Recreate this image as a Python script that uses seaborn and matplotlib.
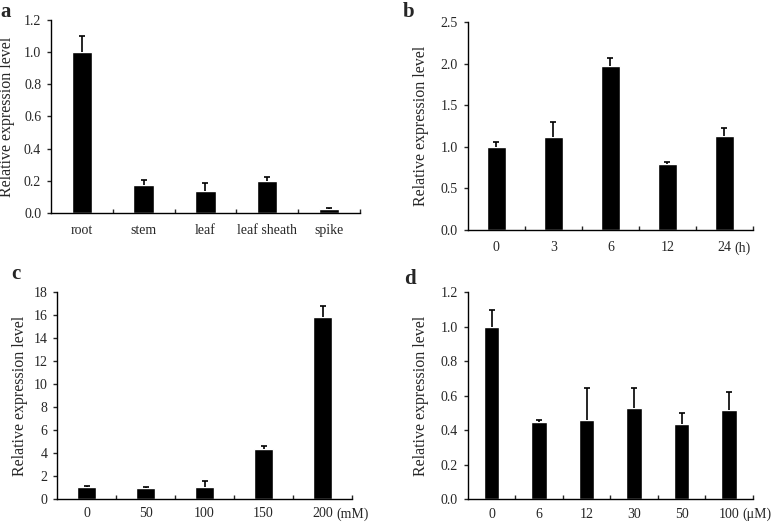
import numpy as np
import matplotlib
matplotlib.use("Agg")
import matplotlib.pyplot as plt
import seaborn as sns
from matplotlib.ticker import MultipleLocator, FormatStrFormatter

# Panel a: tissues
tissues = ["root", "stem", "leaf", "leaf sheath", "spike"]
tissue_mean = [1.00, 0.176, 0.137, 0.200, 0.027]
tissue_err = [0.10, 0.031, 0.048, 0.026, 0.006]

# Panel b: time course (h)
hours = ["0", "3", "6", "12", "24"]
hour_mean = [1.00, 1.122, 1.971, 0.797, 1.134]
hour_err = [0.058, 0.176, 0.092, 0.024, 0.096]

# Panel c: NaCl (mM)
nacl = ["0", "50", "100", "150", "200"]
nacl_mean = [1.01, 0.92, 1.01, 4.31, 15.84]
nacl_err = [0.15, 0.12, 0.58, 0.29, 0.98]

# Panel d: concentration (uM)
conc = ["0", "6", "12", "30", "50", "100"]
conc_mean = [1.00, 0.449, 0.460, 0.526, 0.435, 0.516]
conc_err = [0.096, 0.013, 0.185, 0.119, 0.064, 0.106]

sns.set_style("ticks")
plt.rcParams["font.family"] = ["Liberation Serif", "DejaVu Serif"]
plt.rcParams["font.size"] = 10

fig = plt.figure(figsize=(7.77, 5.22), dpi=100)

panels = [
    # letter, cats, mean, err, ymax, step, fmt, unit, rect, ylabel x, letter pos, unit x, xpad
    ("a", tissues, tissue_mean, tissue_err, 1.2, 0.2, "%.1f", None,
     [0.0656, 0.592, 0.3977, 0.3697], -0.116, (0.0, 17), None, 8),
    ("b", hours, hour_mean, hour_err, 2.5, 0.5, "%.1f", "(h)",
     [0.602, 0.5594, 0.367, 0.3985], -0.136, (403, 17), 0.935, 8),
    ("c", nacl, nacl_mean, nacl_err, 18, 2, "%d", "(mM)",
     [0.0734, 0.0441, 0.3797, 0.3966], -0.098, (11, 279), 0.948, 6),
    ("d", conc, conc_mean, conc_err, 1.2, 0.2, "%.1f", "(\u03bcM)",
     [0.602, 0.0434, 0.367, 0.3972], -0.136, (404, 284), 0.962, 6),
]

for letter, cats, mean, err, ymax, step, fmt, unit, rect, ylab_x, lpos, ux, xpad in panels:
    ax = fig.add_axes(rect)
    sns.barplot(x=cats, y=mean, color="black", width=0.33, errorbar=None,
                saturation=1, ax=ax)
    # upper-only error bars (no cap at the bar top)
    centers = [p.get_x() + p.get_width() / 2 for p in ax.patches]
    tops = np.array(mean) + np.array(err)
    ax.vlines(centers, mean, tops, color="black", linewidth=1.2)
    ax.plot(centers, tops, linestyle="none", marker="_", markersize=5,
            markeredgewidth=1.2, color="black")

    n = len(cats)
    ax.set_xlim(-0.5, n - 0.5)
    ax.set_ylim(0, ymax)
    ax.yaxis.set_major_locator(MultipleLocator(step))
    ax.yaxis.set_major_formatter(FormatStrFormatter(fmt))
    ax.set_xticks(np.arange(n) + 0.5, minor=True)
    ax.tick_params(axis="x", which="major", length=0, pad=xpad, labelsize=10)
    ax.tick_params(axis="x", which="minor", length=3, width=1, direction="in")
    ax.tick_params(axis="y", length=3, width=1, direction="out", pad=4,
                   labelsize=10)

    sns.despine(ax=ax)
    for s in ["left", "bottom"]:
        ax.spines[s].set_linewidth(1)
        ax.spines[s].set_color("black")

    ax.set_ylabel("Relative expression level", fontsize=11.5)
    ax.yaxis.set_label_coords(ylab_x, 0.5)

    if unit:
        ax.annotate(unit, xy=(ux, 0), xycoords="axes fraction",
                    xytext=(0, -xpad), textcoords="offset points",
                    ha="left", va="top", fontsize=10)

    fig.text(lpos[0] / 777, 1 - lpos[1] / 522, letter, fontsize=15,
             fontweight="bold", ha="left", va="baseline")

fig.savefig("out.png", dpi=100)
